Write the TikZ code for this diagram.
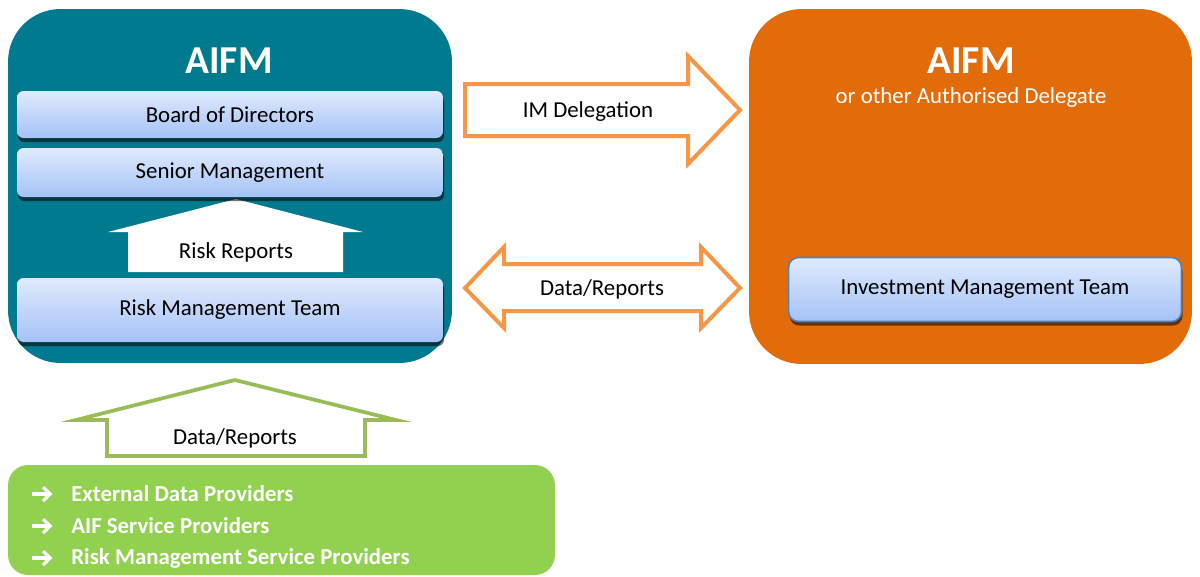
\documentclass[tikz,border=0pt]{standalone}
\usepackage{fontspec}
\setmainfont{Carlito}
\usetikzlibrary{shadows}
\definecolor{tealbg}{RGB}{0,122,142}
\definecolor{orngbg}{RGB}{227,108,10}
\definecolor{grnbg}{RGB}{146,208,80}
\definecolor{grnline}{RGB}{155,187,89}
\definecolor{orline}{RGB}{247,150,70}
\definecolor{btop}{RGB}{224,234,253}
\definecolor{bbot}{RGB}{164,194,247}
\definecolor{bborder}{RGB}{79,129,189}
\begin{document}
\begin{tikzpicture}[x=0.02cm,y=-0.02cm,
  container/.style={rounded corners=1.05cm, inner sep=0pt, outer sep=0pt},
  bluebox/.style={rounded corners=0.13cm, top color=btop, bottom color=bbot,
    inner sep=0pt, font=\fontsize{13}{15}\selectfont, text=black,
    drop shadow={shadow xshift=0.6pt, shadow yshift=-2.4pt, opacity=0.55, fill=black}},
  lbl/.style={font=\fontsize{13}{15}\selectfont, text=black, inner sep=0pt},
  titletext/.style={font=\bfseries\fontsize{22.5}{26}\selectfont, text=white, inner sep=0pt},
  listtext/.style={font=\bfseries\fontsize{13}{15}\selectfont, text=white, inner sep=0pt, anchor=west},
  listarr/.style={draw=white, line width=0.07cm, line join=miter, line cap=butt},
  orarrow/.style={fill=white, draw=orline, line width=0.08cm, line join=miter},
  grarrow/.style={fill=white, draw=grnline, line width=0.075cm, line join=miter}
]
\useasboundingbox (0,0) rectangle (1200,576);

% containers
\node[container, fill=tealbg, minimum width=8.88cm, minimum height=7.08cm] (lbox) at (230,186) {};
\node[container, fill=orngbg, minimum width=8.86cm, minimum height=7.1cm] (rbox) at (970.5,186.5) {};

\node[titletext] (ltitle) at (229,61) {AIFM};
\node[titletext] (rtitle) at (971,61) {AIFM};
\node[font=\fontsize{13}{15}\selectfont, text=white, inner sep=0pt] (rsub) at (971,98) {or other Authorised Delegate};

% Risk reports arrow
\fill[white] (128,272) -- (128,232) -- (108,232) -- (236,199) -- (363,232) -- (343,232) -- (343,272) -- cycle;
\node[lbl] (rr) at (236,252) {Risk Reports};

% blue boxes
\node[bluebox, minimum width=8.52cm, minimum height=0.94cm] (board) at (230,114.5) {Board of Directors};
\node[bluebox, minimum width=8.52cm, minimum height=0.98cm] (senior) at (230,172.5) {Senior Management};
\node[bluebox, minimum width=8.52cm, minimum height=1.28cm] (riskteam) at (230,310) {Risk Management Team};
\node[bluebox, draw=bborder, line width=0.9pt, rounded corners=0.2cm, minimum width=7.86cm, minimum height=1.28cm] (imteam) at (985,289.5) {Investment Management Team};

% orange arrows
\draw[orarrow] (465,84) -- (688,84) -- (688,56) -- (740,110) -- (688,164) -- (688,136) -- (465,136) -- cycle;
\node[lbl] (imdel) at (588,112) {IM Delegation};
\draw[orarrow] (465,288) -- (504,247) -- (504,264) -- (701,264) -- (701,247) -- (740,288) -- (701,328) -- (701,311) -- (504,311) -- (504,328) -- cycle;
\node[lbl] (dr1) at (602,289) {Data/Reports};

% green arrow
\draw[grarrow] (107,456) -- (107,420) -- (76,420) -- (235,380) -- (396,420) -- (365,420) -- (365,456) -- cycle;
\node[lbl] (dr2) at (235,438) {Data/Reports};

% green box
\node[rounded corners=0.4cm, fill=grnbg, minimum width=10.94cm, minimum height=2.2cm, inner sep=0pt] (gbox) at (281.5,520) {};
\node[listtext] (t1) at (71,494) {External Data Providers};
\node[listtext] (t2) at (71,526) {AIF Service Providers};
\node[listtext] (t3) at (71,558) {Risk Management Service Providers};
\foreach \yy in {494,526,558}{
  \draw[listarr] (32,\yy) -- (49,\yy);
  \draw[listarr] (43,\yy-7) -- (50,\yy) -- (43,\yy+7);
}
\end{tikzpicture}
\end{document}
